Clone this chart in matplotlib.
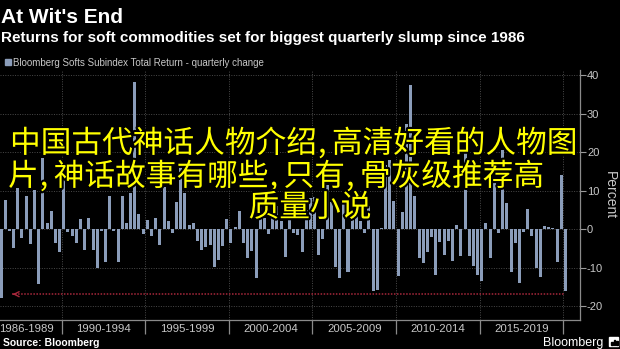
import numpy as np
import matplotlib
matplotlib.use("Agg")
import matplotlib.pyplot as plt
import matplotlib.patheffects as pe
from matplotlib.patches import Rectangle

# Bloomberg Softs Subindex Total Return, quarterly change (%), 1986 Q2 .. 2020 Q1
changes = [
    -18.0, 7.5, -0.4, -5.0, 10.7, -2.4, 8.7, -4.0, 10.1, -14.3,
    18.5, 1.5, 4.8, -3.7, -5.9, 16.6, -0.7, -1.7, -3.5, 2.5,
    -5.3, 2.8, -5.3, -10.2, -0.4, -8.5, 8.6, -0.4, -8.5, 8.6,
    1.5, 9.4, 38.1, 3.9, -1.4, 2.3, -1.8, 2.8, -4.2, 11.0,
    2.1, -1.1, 7.1, 17.0, 9.3, 1.0, 1.6, -3.0, -5.5, -4.7,
    -4.2, -9.8, -8.1, -4.5, 2.5, -3.7, 0.6, 4.8, -3.7, -7.5,
    -5.7, -12.6, 6.0, 3.0, -1.3, 9.7, 6.0, 2.0, -7.2, 3.0,
    -0.9, -1.5, -5.9, 5.0, 8.0, 8.3, -6.8, -2.6, 11.4, 7.0,
    -9.8, -12.6, 7.0, -11.1, 3.0, 3.5, 2.0, -1.1, 6.0, -16.0,
    -15.9, 0.3, 16.6, 18.0, 7.3, -12.3, 4.4, 27.3, 37.5, 8.6,
    -7.4, -8.8, -6.0, -2.0, -11.8, -3.3, -6.8, -3.0, -8.2, 1.0,
    -6.9, 21.4, -6.9, -9.6, -11.8, -13.5, 1.6, -7.4, 12.0, -1.0,
    20.5, 6.8, -11.1, -3.7, -14.1, -0.7, 5.2, -1.7, -10.0, -12.4,
    0.8, 0.5, 0.2, -8.5, 14.0, -16.2,
]
period_labels = ["1986-1989", "1990-1994", "1995-1999", "2000-2004",
                 "2005-2009", "2010-2014", "2015-2019"]
period_centers = [6.2, 24.5, 44.5, 64.5, 84.5, 104.5, 124.5]
period_bounds = [14.5, 34.5, 54.5, 74.5, 94.5, 114.5, 134.5]
slump_level = -16.9
y_ticks = [-20, -10, 0, 10, 20, 30, 40]

overlay_lines = ["中国古代神话人物介绍,高清好看的人物图",
                 "片,神话故事有哪些,只有,骨灰级推荐高",
                 "质量小说"]

plt.rcParams["axes.unicode_minus"] = False
plt.rcParams["font.family"] = ["Liberation Sans", "DejaVu Sans"]

W, H = 620, 349
bar_color = "#8b9dba"

def fx(px):
    return px / W

def fy(py):
    return 1 - py / H

fig = plt.figure(figsize=(6.2, 3.49), dpi=100, facecolor="black")
ax = fig.add_axes([0, fy(320), fx(580), fy(70) - fy(320)])
ax.set_facecolor("black")

x = np.arange(len(changes))
ax.bar(x, changes, width=0.72, color=bar_color, zorder=2)

ax.set_xlim(-0.25, 138.5)
ax.set_ylim(-23.6, 41.3)

# grid
for yv in y_ticks:
    ax.axhline(yv, color="#4a4a4a", lw=0.7, ls=(0, (1, 1.5)), zorder=1)
for b in period_bounds:
    ax.axvline(b, color="#4a4a4a", lw=0.7, ls=(0, (1, 1.5)), zorder=1)

# spines
for s in ["left", "top"]:
    ax.spines[s].set_visible(False)
ax.spines["right"].set_color("#8a8a8a")
ax.spines["bottom"].set_color("#8a8a8a")
ax.spines["right"].set_linewidth(0.9)
ax.spines["bottom"].set_linewidth(0.9)

ax.yaxis.tick_right()
ax.set_yticks(y_ticks)
ax.set_yticklabels([str(v) for v in y_ticks])
ax.tick_params(axis="y", length=4, width=0.8, color="#9a9a9a",
               labelcolor="#c8c8c8", labelsize=8, pad=1)
ax.set_xticks(period_centers)
ax.set_xticklabels(period_labels)
ax.tick_params(axis="x", length=0, labelcolor="#c8c8c8", labelsize=8.2, pad=3)
ax.vlines(period_bounds, -0.056, 0, transform=ax.get_xaxis_transform(),
          color="#8a8a8a", lw=0.9, clip_on=False)

ax.yaxis.set_label_position("right")
ax.set_ylabel("Percent", color="#c8c8c8", fontsize=10, rotation=270,
              labelpad=10)

# red dotted marker of the 1986 slump level
ax.plot([2.6, x[-1]], [slump_level, slump_level], color="#a8283c", lw=1.1,
        ls=(0, (1, 1)), zorder=3)
ax.annotate("", xy=(2.1, slump_level), xytext=(4.0, slump_level),
            arrowprops=dict(arrowstyle="->", color="#a8283c", lw=1.0,
                            mutation_scale=9), zorder=3)

# titles and legend
fig.text(fx(1), fy(22.7), "At Wit's End", color="white", fontsize=15,
         fontweight="bold", va="baseline", ha="left")
fig.text(fx(1), fy(42), "Returns for soft commodities set for biggest quarterly slump since 1986",
         color="white", fontsize=11, fontweight="bold", va="baseline", ha="left")
fig.patches.append(Rectangle((fx(5), fy(65)), fx(6), fy(59) - fy(65),
                             transform=fig.transFigure, color=bar_color))
fig.text(fx(13), fy(65.5), "Bloomberg Softs Subindex Total Return - quarterly change",
         color="#c8c8c8", fontsize=7.05, va="baseline", ha="left")

# footer
fig.text(fx(3), fy(346), "Source: Bloomberg", color="white", fontsize=7.5,
         fontweight="bold", va="baseline", ha="left")
fig.text(fx(603), fy(346), "Bloomberg", color="white", fontsize=9,
         va="baseline", ha="right")
fig.patches.append(Rectangle((fx(609), fy(346)), fx(9), fy(337) - fy(346),
                             transform=fig.transFigure, color="white"))
for bx, bh in [(611, 3), (613.5, 5), (616, 4)]:
    fig.patches.append(Rectangle((fx(bx), fy(345)), fx(1.5), fy(345 - bh) - fy(345),
                                 transform=fig.transFigure, color="black"))

# overlay caption: full-width CJK glyphs, commas get a wider slot
cjk = ["Noto Sans CJK SC", "DejaVu Sans"]
stroke = [pe.withStroke(linewidth=3, foreground="black")]
cap_size = 22.1
em = cap_size * 100 / 72
comma_w = 15


def caption_line(text, left, yc):
    px = left
    for part_i, part in enumerate(text.split(",")):
        if part_i > 0:
            fig.text(fx(px + 1), fy(yc), ",", family=cjk, fontsize=cap_size,
                     color="#ffff00", va="center", ha="left", path_effects=stroke)
            px += comma_w
        fig.text(fx(px), fy(yc), part, family=cjk, fontsize=cap_size,
                 color="#ffff00", va="center", ha="left", path_effects=stroke)
        px += len(part) * em


caption_line(overlay_lines[0], 10, 144)
caption_line(overlay_lines[1], 8, 177)
caption_line(overlay_lines[2], 310 - 2 * em, 208)

fig.savefig("out.png", dpi=100, facecolor="black")
